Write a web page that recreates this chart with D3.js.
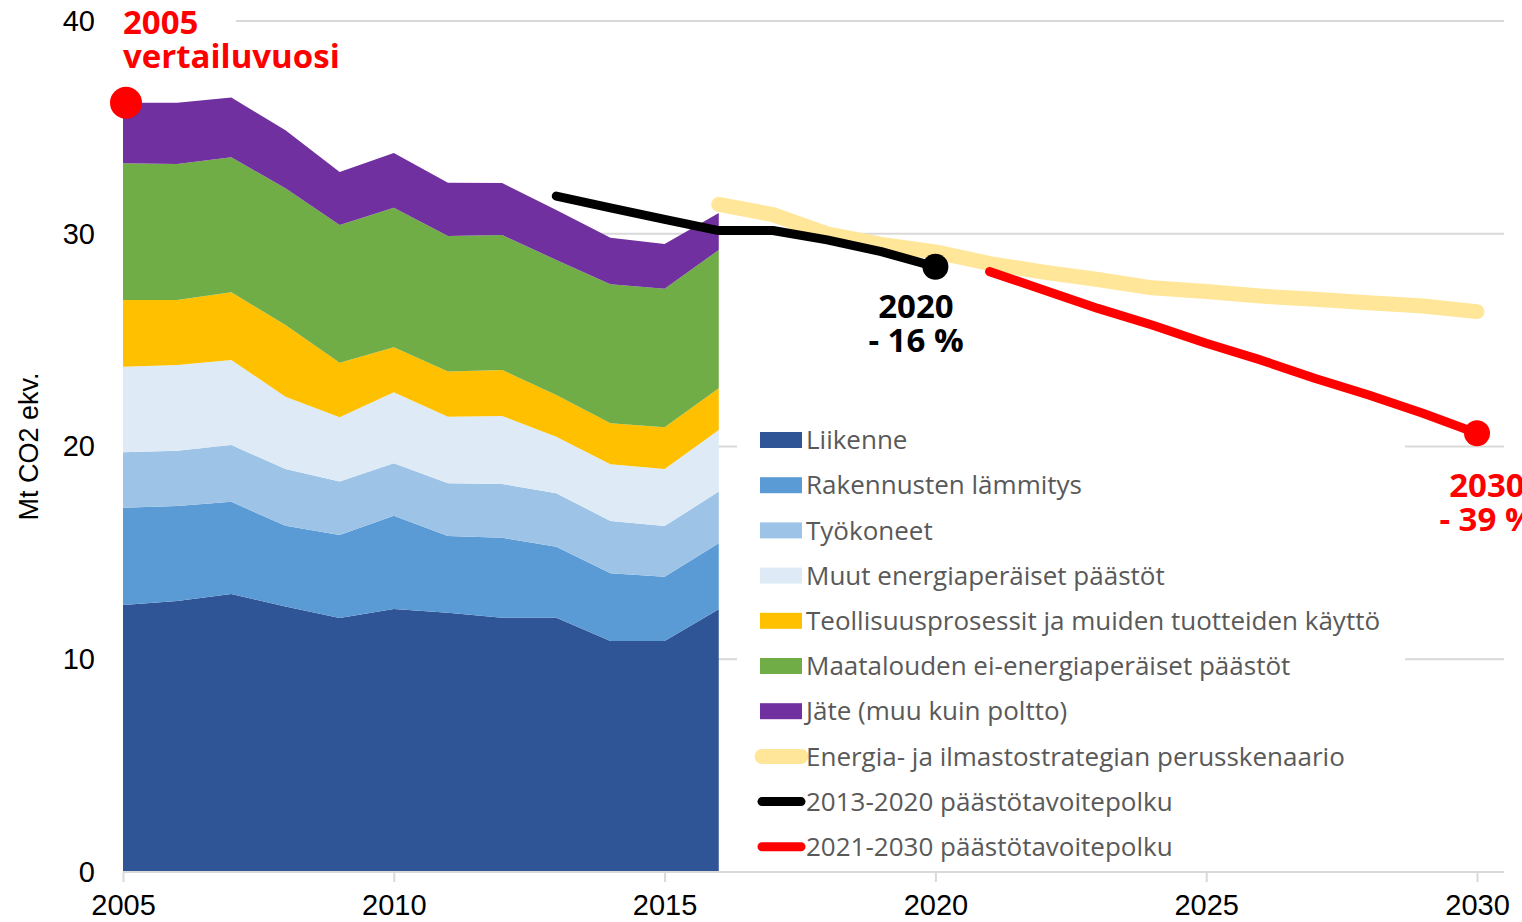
<!DOCTYPE html>
<html lang="fi">
<head>
<meta charset="UTF-8">
<title>Päästöt</title>
<style>
    body { margin: 0; background: #fff; }
    svg { display: block; }
    .tick text { font-family: "Liberation Sans", Arial, sans-serif; }
</style>
</head>
<body>
<div id="chart"></div>
<script src="https://d3js.org/d3.v7.min.js"></script>
<script>
// historical emissions, Mt CO2 ekv.
const years = [2005, 2006, 2007, 2008, 2009, 2010, 2011, 2012, 2013, 2014, 2015, 2016];
const liikenne = [12.55, 12.74, 13.07, 12.48, 11.94, 12.36, 12.19, 11.95, 11.95, 10.86, 10.86, 12.35];
const rakennusten = [4.57, 4.46, 4.33, 3.79, 3.90, 4.39, 3.60, 3.76, 3.34, 3.18, 3.02, 3.10];
const tyokoneet = [2.61, 2.60, 2.67, 2.67, 2.51, 2.46, 2.48, 2.53, 2.51, 2.46, 2.38, 2.43];
const muut = [4.02, 4.03, 4.00, 3.40, 3.02, 3.34, 3.13, 3.19, 2.66, 2.66, 2.68, 2.90];
const teollisuus = [3.14, 3.06, 3.18, 3.37, 2.57, 2.11, 2.12, 2.17, 1.96, 1.93, 1.96, 1.96];
const maatalous = [6.42, 6.39, 6.34, 6.43, 6.47, 6.56, 6.38, 6.34, 6.35, 6.54, 6.51, 6.50];
const jate = [2.85, 2.88, 2.82, 2.72, 2.49, 2.58, 2.50, 2.44, 2.35, 2.18, 2.11, 1.73];

// scenario and target paths
const baseYears = [2016, 2017, 2018, 2019, 2020, 2021, 2022, 2023, 2024, 2025, 2026, 2027, 2028, 2029, 2030];
const baseValues = [31.38, 30.9, 30.0, 29.5, 29.15, 28.6, 28.2, 27.85, 27.46, 27.29, 27.07, 26.92, 26.76, 26.6, 26.34];
const path1Years = [2013, 2014, 2015, 2016, 2017, 2018, 2019, 2020];
const path1Values = [31.77, 31.22, 30.68, 30.15, 30.15, 29.71, 29.16, 28.45];
const path2Years = [2021, 2022, 2023, 2024, 2025, 2026, 2027, 2028, 2029, 2030];
const path2Values = [28.22, 27.36, 26.49, 25.71, 24.85, 24.07, 23.21, 22.42, 21.56, 20.62];

const seriesNames = ["Liikenne", "Rakennusten lämmitys", "Työkoneet", "Muut energiaperäiset päästöt",
    "Teollisuusprosessit ja muiden tuotteiden käyttö", "Maatalouden ei-energiaperäiset päästöt", "Jäte (muu kuin poltto)"];
const seriesColors = ["#2f5597", "#5b9bd5", "#9dc3e6", "#deebf7", "#ffc000", "#70ad47", "#7030a0"];
const lineNames = ["Energia- ja ilmastostrategian perusskenaario", "2013-2020 päästötavoitepolku", "2021-2030 päästötavoitepolku"];
const lineColors = ["#ffe699", "#000000", "#ff0000"];

const yTicks = [0, 10, 20, 30, 40];
const xTicks = [2005, 2010, 2015, 2020, 2025, 2030];

const W = 1522, H = 922;
const svg = d3.select("#chart").append("svg").attr("width", W).attr("height", H);

const x = d3.scaleLinear().domain([2005, 2030]).range([123, 1477]);
const y = d3.scaleLinear().domain([0, 40]).range([872, 21]);
const xEnd = x(2030.5);

// gridlines
svg.append("g")
    .selectAll("line")
    .data(yTicks.filter(d => d > 0))
    .join("line")
    .attr("x1", x(2005)).attr("x2", xEnd)
    .attr("y1", d => y(d)).attr("y2", d => y(d))
    .attr("stroke", "#d9d9d9").attr("stroke-width", 2);

// stacked areas
const table = years.map((yr, i) => ({
    year: yr,
    "Liikenne": liikenne[i],
    "Rakennusten lämmitys": rakennusten[i],
    "Työkoneet": tyokoneet[i],
    "Muut energiaperäiset päästöt": muut[i],
    "Teollisuusprosessit ja muiden tuotteiden käyttö": teollisuus[i],
    "Maatalouden ei-energiaperäiset päästöt": maatalous[i],
    "Jäte (muu kuin poltto)": jate[i]
}));
const stacked = d3.stack().keys(seriesNames)(table);
const area = d3.area()
    .x(d => x(d.data.year))
    .y0(d => y(d[0]))
    .y1(d => y(d[1]));

svg.append("g")
    .selectAll("path")
    .data(stacked)
    .join("path")
    .attr("d", area)
    .attr("fill", (d, i) => seriesColors[i]);

// axes
const xAxis = svg.append("g")
    .attr("transform", `translate(0,${y(0)})`)
    .call(d3.axisBottom(x).tickValues(xTicks).tickFormat(d3.format("d")).tickSize(10).tickPadding(12));
xAxis.select(".domain").remove();
xAxis.selectAll(".tick line").attr("stroke", "#d9d9d9").attr("stroke-width", 2);
xAxis.selectAll(".tick text").attr("font-size", 29).attr("fill", "#000");
xAxis.append("line")
    .attr("x1", x(2005)).attr("x2", xEnd)
    .attr("stroke", "#d9d9d9").attr("stroke-width", 2);

const yAxis = svg.append("g")
    .attr("transform", `translate(${x(2005)},0)`)
    .call(d3.axisLeft(y).tickValues(yTicks).tickSize(0).tickPadding(28));
yAxis.select(".domain").remove();
yAxis.selectAll(".tick text").attr("font-size", 29).attr("fill", "#000");

svg.append("text")
    .attr("transform", `translate(38,${y(20)}) rotate(-90)`)
    .attr("text-anchor", "middle")
    .attr("font-family", "Liberation Sans, Arial, sans-serif")
    .attr("font-size", 27)
    .text("Mt CO2 ekv.");

// white box behind the 2005 label (hides the top gridline)
svg.append("rect").attr("x", 100).attr("y", 0).attr("width", 136).attr("height", 40).attr("fill", "#fff");

// legend background
svg.append("rect").attr("x", 737).attr("y", 415).attr("width", 668).attr("height", 455).attr("fill", "#fff");

// lines
const line = d3.line().x(d => x(d[0])).y(d => y(d[1]));
const lineData = [
    d3.zip(baseYears, baseValues),
    d3.zip(path1Years, path1Values),
    d3.zip(path2Years, path2Values)
];
const lineWidths = [15, 9, 9];
svg.append("g")
    .selectAll("path")
    .data(lineData)
    .join("path")
    .attr("d", line)
    .attr("fill", "none")
    .attr("stroke", (d, i) => lineColors[i])
    .attr("stroke-width", (d, i) => lineWidths[i])
    .attr("stroke-linecap", "round")
    .attr("stroke-linejoin", "round");

// marker dots
svg.append("circle").attr("cx", x(2020)).attr("cy", y(path1Values[path1Values.length - 1])).attr("r", 13).attr("fill", "#000");
svg.append("circle").attr("cx", x(2030)).attr("cy", y(path2Values[path2Values.length - 1])).attr("r", 13).attr("fill", "#ff0000");
const total2005 = stacked[stacked.length - 1][0][1];
svg.append("circle").attr("cx", x(2005) + 3).attr("cy", y(total2005)).attr("r", 16).attr("fill", "#ff0000");

// annotations
const annFont = "'Open Sans', 'Noto Sans', sans-serif";
function note(lines, cx, y0, color, anchor) {
    const t = svg.append("text")
        .attr("font-family", annFont)
        .attr("font-weight", "bold")
        .attr("font-size", 33)
        .attr("fill", color)
        .attr("text-anchor", anchor);
    lines.forEach((s, i) => {
        t.append("tspan").attr("x", cx).attr("y", y0 + i * 34).text(s);
    });
}
note(["2005", "vertailuvuosi"], 123, 34, "#ff0000", "start");
note(["2020", "- 16 %"], 916, 318, "#000", "middle");
note(["2030", "- 39 %"], 1487, 497, "#ff0000", "middle");

// legend
const legend = svg.append("g");
const legY0 = 440, legStep = 45.2;
const allNames = seriesNames.concat(lineNames);
allNames.forEach((name, i) => {
    const cy = legY0 + i * legStep;
    if (i < seriesNames.length) {
        legend.append("rect")
            .attr("x", 760).attr("y", cy - 8).attr("width", 42).attr("height", 16)
            .attr("fill", seriesColors[i]);
    } else {
        const j = i - seriesNames.length;
        legend.append("line")
            .attr("x1", 762).attr("x2", 801).attr("y1", cy).attr("y2", cy)
            .attr("stroke", lineColors[j])
            .attr("stroke-width", lineWidths[j])
            .attr("stroke-linecap", "round");
    }
    legend.append("text")
        .attr("x", 806).attr("y", cy)
        .attr("dy", "0.35em")
        .attr("font-family", annFont)
        .attr("font-size", 26)
        .attr("fill", "#595959")
        .text(name);
});
</script>
</body>
</html>
